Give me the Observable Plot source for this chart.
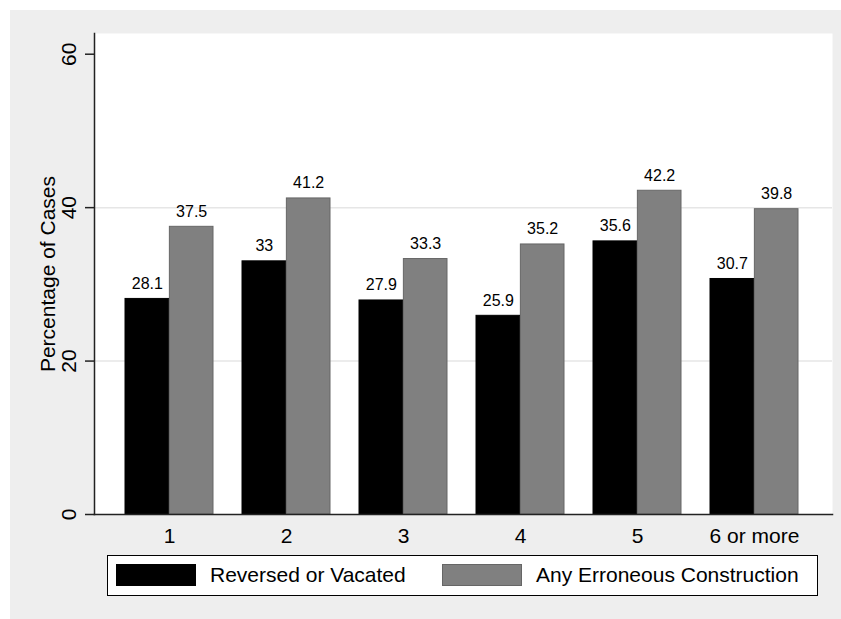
<!DOCTYPE html>
<html><head><meta charset="utf-8">
<script src="https://cdn.jsdelivr.net/npm/d3@7"></script>
<script src="https://cdn.jsdelivr.net/npm/@observablehq/plot@0.6"></script>
<style>
body{margin:0;background:#fff;font-family:"Liberation Sans",Arial,Helvetica,sans-serif;}
#wrap{position:relative;width:841px;height:619px;overflow:hidden;background:#fff;}
#bg{position:absolute;left:10px;top:10px;right:0;bottom:0;background:#eeeeee;}
#chart{position:absolute;left:0;top:0;}
#legend{position:absolute;left:107px;top:555px;width:709px;height:39px;border:1px solid #000;background:#fff;}
.item{position:absolute;top:8px;height:22px;display:flex;align-items:center;font-size:21px;color:#000;white-space:nowrap;}
.sw{width:80px;height:22px;box-sizing:border-box;margin-right:14px;border:1px solid;}
</style></head>
<body><div id="wrap"><div id="bg"></div><div id="chart"></div><div id="legend"></div></div>
<script>
const categories = ["1", "2", "3", "4", "5", "6 or more"];
const seriesNames = ["Reversed or Vacated", "Any Erroneous Construction"];
const reversed = [28.1, 33, 27.9, 25.9, 35.6, 30.7];
const erroneous = [37.5, 41.2, 33.3, 35.2, 42.2, 39.8];
const yTicks = [0, 20, 40, 60];
const yGridLines = [20, 40];
const yTitle = "Percentage of Cases";
const fills = ["#000000", "#808080"];
const strokes = ["#000000", "#666666"];

const data = categories.map((c, i) => ({cat: c, rev: reversed[i], any: erroneous[i]}));

const W = 841, H = 560, mL = 94, mR = 9, mT = 33, mB = 46;
const pInner = 0.246, pOuter = 0.258;
const step = (W - mL - mR) / (categories.length - pInner + 2 * pOuter);
const bw = step * (1 - pInner);

const chart = Plot.plot({
  width: W, height: H,
  marginLeft: mL, marginRight: mR, marginTop: mT, marginBottom: mB,
  style: {background: "transparent", fontFamily: "'Liberation Sans', Arial, Helvetica, sans-serif", fontSize: "21px", color: "#000", overflow: "visible"},
  x: {domain: categories, paddingInner: pInner, paddingOuter: pOuter, align: 0.48, label: null},
  y: {domain: [0, 62.7], label: null},
  marks: [
    Plot.frame({fill: "white", stroke: null}),
    Plot.ruleY(yGridLines, {stroke: "#e6e6e6", strokeWidth: 1.5}),
    Plot.barY(data, {x: "cat", y: "rev", fill: fills[0], stroke: strokes[0], strokeWidth: 1, insetRight: bw / 2, insetLeft: 0}),
    Plot.barY(data, {x: "cat", y: "any", fill: fills[1], stroke: strokes[1], strokeWidth: 1, insetLeft: bw / 2, insetRight: 0}),
    Plot.text(data, {x: "cat", y: "rev", text: d => String(d.rev), dx: -bw / 4, dy: -10, lineAnchor: "bottom", textAnchor: "middle", fontSize: 16, fill: "#000"}),
    Plot.text(data, {x: "cat", y: "any", text: d => String(d.any), dx: bw / 4, dy: -10, lineAnchor: "bottom", textAnchor: "middle", fontSize: 16, fill: "#000"}),
    Plot.frame({anchor: "left", stroke: "#222", strokeWidth: 1.5}),
    Plot.frame({anchor: "bottom", stroke: "#222", strokeWidth: 1.5}),
    Plot.axisY({ticks: yTicks, tickSize: 9, tickPadding: 10, tickRotate: -90, fontSize: 21, label: null, stroke: "#222", strokeWidth: 1.5}),
    Plot.axisX({tickSize: 0, tickPadding: 14, fontSize: 21, label: null}),
    Plot.text([yTitle], {text: d => d, frameAnchor: "left", dx: -40, rotate: -90, textAnchor: "middle", lineAnchor: "bottom", fontSize: 21, fill: "#000"})
  ]
});
document.getElementById("chart").appendChild(chart);

const legend = document.getElementById("legend");
const lefts = [8, 334];
seriesNames.forEach((name, i) => {
  const item = document.createElement("div");
  item.className = "item";
  item.style.left = lefts[i] + "px";
  const sw = document.createElement("div");
  sw.className = "sw";
  sw.style.background = fills[i];
  sw.style.borderColor = strokes[i];
  const t = document.createElement("span");
  t.textContent = name;
  item.appendChild(sw);
  item.appendChild(t);
  legend.appendChild(item);
});
</script>
</body></html>
